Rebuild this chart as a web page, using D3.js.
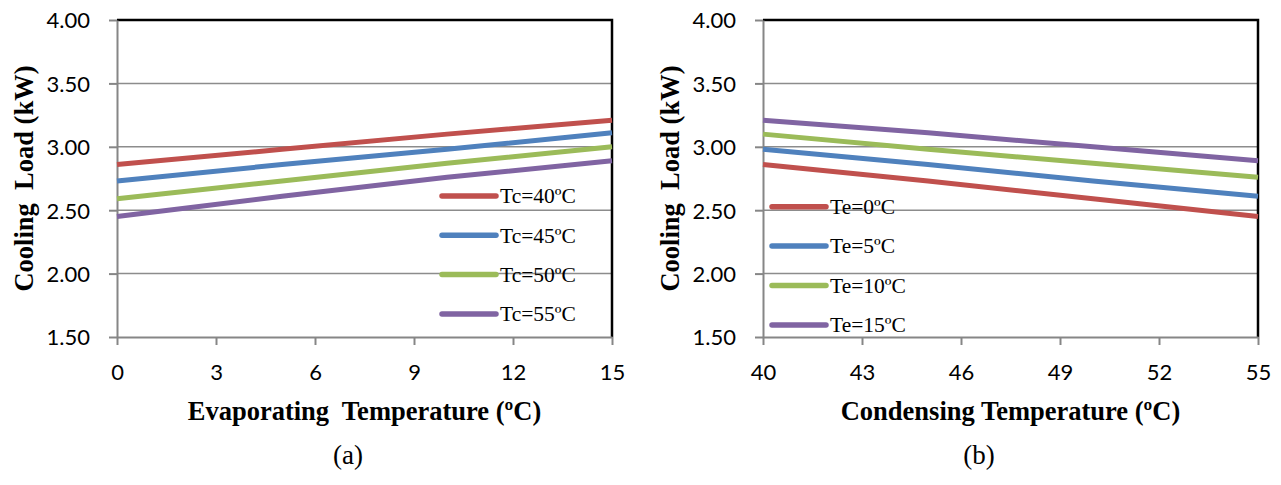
<!DOCTYPE html>
<html>
<head>
<meta charset="utf-8">
<script src="https://cdn.jsdelivr.net/npm/d3@7"></script>
<style>
  body { margin: 0; background: #fff; }
  text { white-space: pre; }
</style>
</head>
<body>
<svg id="chart" width="1281" height="485"></svg>
<script>
// cooling load (kW) for each condensing temperature, read at Te = 0, 5, 10, 15 ºC
const evapTemps = [0, 5, 10, 15];
const condTemps = [40, 45, 50, 55];
const loadTc40 = [2.86, 2.98, 3.10, 3.21];
const loadTc45 = [2.73, 2.86, 2.98, 3.11];
const loadTc50 = [2.59, 2.73, 2.87, 3.00];
const loadTc55 = [2.45, 2.61, 2.76, 2.89];

const tcLabels = ["Tc=40ºC", "Tc=45ºC", "Tc=50ºC", "Tc=55ºC"];
const teLabels = ["Te=0ºC", "Te=5ºC", "Te=10ºC", "Te=15ºC"];
const evapTicks = [0, 3, 6, 9, 12, 15];
const condTicks = [40, 43, 46, 49, 52, 55];
const loadTicks = [1.5, 2.0, 2.5, 3.0, 3.5, 4.0];

const colors = ["#C0504D", "#4F81BD", "#9BBB59", "#8064A2"];

var svg = d3.select("#chart");

var byTc = [loadTc40, loadTc45, loadTc50, loadTc55];
// panel (a): one line per Tc over Te
var seriesA = byTc.map(vals => evapTemps.map((t, i) => [t, vals[i]]));
// panel (b): one line per Te over Tc
var seriesB = evapTemps.map((t, j) => condTemps.map((c, i) => [c, byTc[i][j]]));

var plotTop = 20, plotBottom = 337;
var y = d3.scaleLinear().domain([1.5, 4.0]).range([plotBottom, plotTop]);

function drawPanel(p) {
    var x = d3.scaleLinear().domain(p.domain).range([p.left, p.right]);
    var g = svg.append("g");

    // gridlines
    g.selectAll(".grid")
        .data(loadTicks.slice(1, -1))
        .enter().append("line")
        .attr("x1", p.left).attr("x2", p.right)
        .attr("y1", d => y(d)).attr("y2", d => y(d))
        .style("stroke", "#8c8c8c")
        .style("stroke-width", "1.5px");

    // top + right border
    g.append("path")
        .attr("d", `M${p.left},${plotTop}H${p.right}V${plotBottom}`)
        .style("fill", "none")
        .style("stroke", "#000")
        .style("stroke-width", "2.5px");

    // y axis
    var ya = g.append("g")
        .attr("transform", `translate(${p.left},0)`)
        .call(d3.axisLeft(y).tickValues(loadTicks).tickFormat(d3.format(".2f"))
            .tickSize(8).tickSizeOuter(0).tickPadding(19));

    // x axis
    var xa = g.append("g")
        .attr("transform", `translate(0,${plotBottom})`)
        .call(d3.axisBottom(x).tickValues(p.ticks)
            .tickSize(8).tickSizeOuter(0).tickPadding(19));

    [ya, xa].forEach(a => {
        a.select(".domain").style("stroke", "#868686").style("stroke-width", "2px");
        a.selectAll(".tick line").style("stroke", "#868686").style("stroke-width", "2px");
        a.selectAll(".tick text")
            .style("font-family", "Lato, 'Open Sans', sans-serif")
            .style("font-size", "22px")
            .style("fill", "#000");
    });
    ya.selectAll(".tick text").attr("dy", "0.36em");

    // data lines
    var line = d3.line().x(d => x(d[0])).y(d => y(d[1]));
    g.selectAll(".series")
        .data(p.series)
        .enter().append("path")
        .attr("d", line)
        .style("fill", "none")
        .style("stroke", (d, i) => colors[i])
        .style("stroke-width", "5px");

    // legend
    var leg = g.selectAll(".leg")
        .data(p.labels)
        .enter().append("g")
        .attr("transform", (d, i) => `translate(${p.legX},${p.legY + i * p.legStep})`);

    leg.append("line")
        .attr("x1", 0).attr("x2", 54)
        .style("stroke", (d, i) => colors[i])
        .style("stroke-width", "5.5px")
        .style("stroke-linecap", "round");

    leg.append("text")
        .attr("x", 58)
        .attr("dy", "0.34em")
        .text(d => d)
        .style("font-family", "'Liberation Serif', 'Times New Roman', serif")
        .style("font-size", "21.5px")
        .style("fill", "#000");

    // axis titles
    g.append("text")
        .attr("x", (p.left + p.right) / 2)
        .attr("y", 420)
        .attr("text-anchor", "middle")
        .text(p.xTitle)
        .style("font-family", "'Liberation Serif', 'Times New Roman', serif")
        .style("font-size", "26.5px")
        .style("font-weight", "bold");

    g.append("text")
        .attr("transform", `translate(${p.left - 84},${(plotTop + plotBottom) / 2}) rotate(-90)`)
        .attr("text-anchor", "middle")
        .text("Cooling  Load (kW)")
        .style("font-family", "'Liberation Serif', 'Times New Roman', serif")
        .style("font-size", "26.5px")
        .style("font-weight", "bold");

    // caption
    g.append("text")
        .attr("x", p.capX)
        .attr("y", 464)
        .attr("text-anchor", "middle")
        .text(p.caption)
        .style("font-family", "'Liberation Serif', 'Times New Roman', serif")
        .style("font-size", "27px");
}

drawPanel({
    left: 117, right: 612, domain: [0, 15], ticks: evapTicks,
    series: seriesA, labels: tcLabels,
    legX: 442, legY: 196, legStep: 39.3,
    xTitle: "Evaporating  Temperature (ºC)", caption: "(a)", capX: 348
});

drawPanel({
    left: 763, right: 1258, domain: [40, 55], ticks: condTicks,
    series: seriesB, labels: teLabels,
    legX: 772, legY: 206.7, legStep: 39.4,
    xTitle: "Condensing Temperature (ºC)", caption: "(b)", capX: 979
});
</script>
</body>
</html>
